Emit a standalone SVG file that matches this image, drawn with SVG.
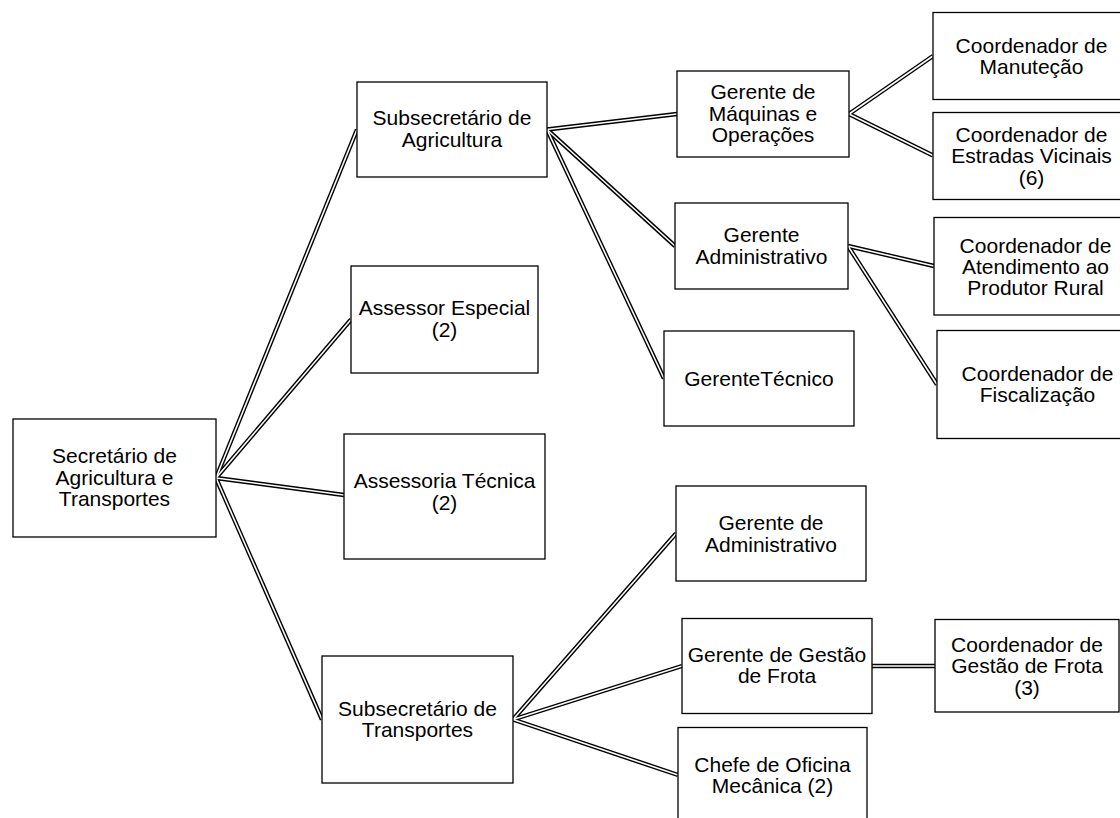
<svg xmlns="http://www.w3.org/2000/svg" xmlns:xlink="http://www.w3.org/1999/xlink" width="1120" height="818" viewBox="0 0 1120 818">
<style>
.box{fill:#fff;stroke:#000;stroke-width:1.3}
.t{font-family:"Liberation Sans",Arial,sans-serif;font-size:21px;fill:#000;text-anchor:middle}
.outer{stroke:#000;stroke-width:4.4;fill:none}
.inner{stroke:#fff;stroke-width:1.6;fill:none}
</style>
<rect width="1120" height="818" fill="#fff"/>
<g id="connectors">
  <g class="outer">
    <g id="conn">
      <line x1="216" y1="478" x2="357" y2="129.5"/>
      <line x1="216" y1="478" x2="351" y2="319.5"/>
      <line x1="216" y1="478" x2="344" y2="495"/>
      <line x1="216" y1="478" x2="322" y2="719.5"/>
      <line x1="547" y1="129.5" x2="677" y2="114"/>
      <line x1="547" y1="129.5" x2="675" y2="246"/>
      <line x1="547" y1="129.5" x2="664" y2="378.5"/>
      <line x1="849" y1="114" x2="933" y2="56"/>
      <line x1="849" y1="114" x2="933" y2="155.5"/>
      <line x1="848" y1="246" x2="934" y2="266"/>
      <line x1="848" y1="246" x2="937" y2="384.5"/>
      <line x1="513" y1="719.5" x2="676" y2="533.5"/>
      <line x1="513" y1="719.5" x2="682" y2="666"/>
      <line x1="513" y1="719.5" x2="678" y2="775"/>
      <line x1="872" y1="666" x2="935" y2="666"/>
    </g>
  </g>
  <g class="inner"><use xlink:href="#conn" href="#conn"/></g>
</g>
<g id="n-secretario"><rect class="box" x="13" y="419" width="203" height="118"/>
<text class="t" x="114.5" y="463">Secretário de</text><text class="t" x="114.5" y="484.5">Agricultura e</text><text class="t" x="114.5" y="506">Transportes</text></g>
<g id="n-sub-agri"><rect class="box" x="357" y="82" width="190" height="95"/>
<text class="t" x="452" y="125">Subsecretário de</text><text class="t" x="452" y="146.5">Agricultura</text></g>
<g id="n-assessor"><rect class="box" x="351" y="266" width="187" height="107"/>
<text class="t" x="444.5" y="315">Assessor Especial</text><text class="t" x="444.5" y="336.5">(2)</text></g>
<g id="n-assessoria"><rect class="box" x="344" y="434" width="201" height="125"/>
<text class="t" x="444.5" y="488">Assessoria Técnica</text><text class="t" x="444.5" y="509.5">(2)</text></g>
<g id="n-sub-transp"><rect class="box" x="322" y="656" width="191" height="127"/>
<text class="t" x="417.5" y="715.5">Subsecretário de</text><text class="t" x="417.5" y="737">Transportes</text></g>
<g id="n-ger-maq"><rect class="box" x="677" y="71" width="172" height="86"/>
<text class="t" x="763" y="99">Gerente de</text><text class="t" x="763" y="120.5">Máquinas e</text><text class="t" x="763" y="142">Operações</text></g>
<g id="n-ger-adm"><rect class="box" x="675" y="203" width="173" height="86"/>
<text class="t" x="761.5" y="242">Gerente</text><text class="t" x="761.5" y="263.5">Administrativo</text></g>
<g id="n-ger-tec"><rect class="box" x="664" y="331" width="190" height="95"/>
<text class="t" x="759" y="385.5">GerenteTécnico</text></g>
<g id="n-coord-manut"><rect class="box" x="933" y="12.5" width="197" height="87"/>
<text class="t" x="1031.5" y="52.5">Coordenador de</text><text class="t" x="1031.5" y="74">Manuteção</text></g>
<g id="n-coord-estradas"><rect class="box" x="933" y="112.5" width="197" height="87"/>
<text class="t" x="1031.5" y="141.5">Coordenador de</text><text class="t" x="1031.5" y="163">Estradas Vicinais</text><text class="t" x="1031.5" y="184.5">(6)</text></g>
<g id="n-coord-atend"><rect class="box" x="934" y="217.5" width="203" height="97.5"/>
<text class="t" x="1035.5" y="252.5">Coordenador de</text><text class="t" x="1035.5" y="273.5">Atendimento ao</text><text class="t" x="1035.5" y="294.5">Produtor Rural</text></g>
<g id="n-coord-fisc"><rect class="box" x="937" y="330.5" width="201" height="108"/>
<text class="t" x="1037.5" y="380.5">Coordenador de</text><text class="t" x="1037.5" y="402">Fiscalização</text></g>
<g id="n-ger-de-adm"><rect class="box" x="676" y="486" width="190" height="95"/>
<text class="t" x="771" y="530">Gerente de</text><text class="t" x="771" y="551.5">Administrativo</text></g>
<g id="n-ger-frota"><rect class="box" x="682" y="618.5" width="190" height="95"/>
<text class="t" x="777" y="661.5">Gerente de Gestão</text><text class="t" x="777" y="683">de Frota</text></g>
<g id="n-coord-frota"><rect class="box" x="935" y="619.5" width="184" height="92.5"/>
<text class="t" x="1027" y="651.5">Coordenador de</text><text class="t" x="1027" y="673">Gestão de Frota</text><text class="t" x="1027" y="694.5">(3)</text></g>
<g id="n-chefe"><rect class="box" x="678" y="727.5" width="189" height="96"/>
<text class="t" x="772.5" y="771.5">Chefe de Oficina</text><text class="t" x="772.5" y="793">Mecânica (2)</text></g>
</svg>
